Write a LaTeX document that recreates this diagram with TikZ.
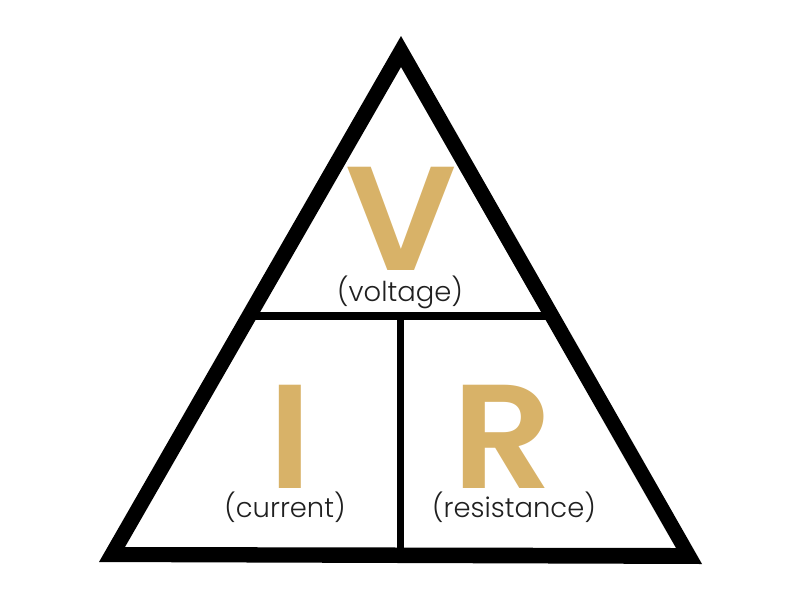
\documentclass[tikz,border=0pt]{standalone}
\usepackage{fontspec}
\newfontfamily\letterfont{Poppins}[UprightFont=* SemiBold,FakeStretch=1.06]
\newfontfamily\labelfont{Poppins}[UprightFont=* Light]
\definecolor{goldL}{RGB}{216,178,104}
\definecolor{inkL}{RGB}{32,32,32}
\begin{document}
\begin{tikzpicture}
  [x=1pt,y=-1pt,
   letterN/.style={anchor=base,inner sep=0pt,text=goldL,font=\letterfont\fontsize{148}{148}\selectfont},
   wordN/.style={anchor=base,inner sep=0pt,text=inkL,font=\labelfont\fontsize{27.4}{27.4}\selectfont},
   barL/.style={draw=black,line width=8pt}
  ]
  \useasboundingbox (0,0) rectangle (800,600);

  % outer and inner corners of the frame
  \foreach \x/\y/\n in {401/36/top,99/562/left,702/564/right,401/67/itop,125/547/ileft,676/548/iright} {
     \coordinate (\n) at (\x,\y);
  }
  \fill[black,even odd rule] (top) -- (left) -- (right) -- cycle (itop) -- (ileft) -- (iright) -- cycle;

  \foreach \x/\y/\n in {252/316/barl,550/316/barr,400.5/316/midt,400.5/552/midb} {
     \coordinate (\n) at (\x,\y);
  }
  \draw[barL] (barl) -- (barr);
  \draw[barL,line width=7pt] (midt) -- (midb);

  \foreach \x/\y/\n/\t in {401/270/volt/V,290/488/curr/I,503/488/resi/R} {
     \node[letterN] (\n) at (\x,\y) {\t};
  }
  \foreach \x/\y/\n/\t in {400/301/voltW/(voltage),285/517/currW/(current),514/517/resiW/(resistance)} {
     \node[wordN] (\n) at (\x,\y) {\t};
  }
\end{tikzpicture}
\end{document}
